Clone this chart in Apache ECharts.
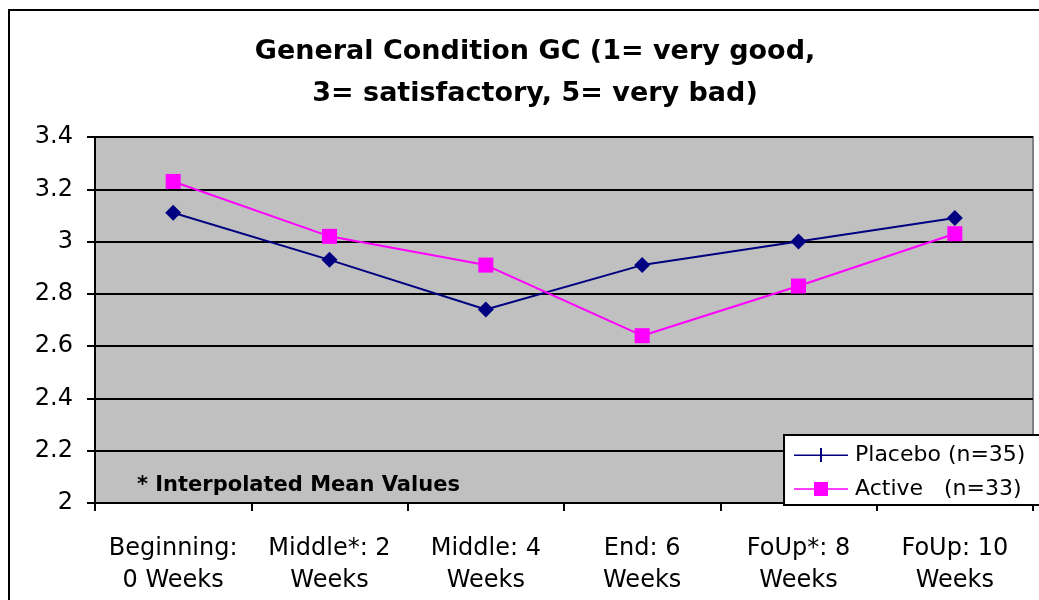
<!DOCTYPE html>
<html>
<head>
<meta charset="utf-8">
<script src="https://cdn.jsdelivr.net/npm/echarts@6/dist/echarts.min.js"></script>
<style>
  html, body { margin: 0; padding: 0; background: #fff; }
  #chart { width: 1039px; height: 600px; }
</style>
</head>
<body>
<div id="chart"></div>
<script>
// time points
var categories = ['Beginning:\n0 Weeks', 'Middle*: 2\nWeeks', 'Middle: 4\nWeeks', 'End: 6\nWeeks', 'FoUp*: 8\nWeeks', 'FoUp: 10\nWeeks'];
// mean GC values
var placebo = [3.11, 2.93, 2.74, 2.91, 3.00, 3.09];
var active = [3.23, 3.02, 2.91, 2.64, 2.83, 3.03];
var yTicks = { min: 2, max: 3.4, step: 0.2 };

var chart = echarts.init(document.getElementById('chart'));
var font = 'DejaVu Sans, Liberation Sans, sans-serif';

var option = {
  animation: false,
  textStyle: { fontFamily: font },
  title: {
    text: 'General Condition GC (1= very good,\n3= satisfactory, 5= very bad)',
    left: 530,
    top: 26,
    textAlign: 'center',
    textStyle: { fontSize: 27, fontWeight: 'bold', color: '#000', lineHeight: 42, fontFamily: font }
  },
  graphic: [
    { // outer chart border
      type: 'rect',
      shape: { x: 9, y: 10, width: 1100, height: 700 },
      style: { fill: 'none', stroke: '#000', lineWidth: 2 },
      z: 100
    },
    {
      type: 'text',
      left: 137,
      top: 475,
      style: { text: '* Interpolated Mean Values', font: 'bold 21px ' + font, fill: '#000' },
      z: 10
    }
  ],
  legend: {
    orient: 'vertical',
    left: 784,
    top: 435,
    width: 260,
    padding: [9, 20, 5, 10],
    itemGap: 12,
    itemWidth: 54,
    itemHeight: 14,
    backgroundColor: '#fff',
    borderColor: '#000',
    borderWidth: 2,
    borderRadius: 0,
    textStyle: { fontSize: 22, color: '#000', fontFamily: font, padding: [0, 0, 0, 2] },
    data: [
      { name: 'Placebo (n=35)', icon: 'path://M0,6.5h54v1.6h-54z M26,0h2v14h-2z' },
      { name: 'Active   (n=33)', icon: 'path://M0,6.2h54v1.6h-54z M20,0h14v14h-14z' }
    ]
  },
  grid: {
    left: 95, right: 6, top: 137, bottom: 97,
    show: true,
    backgroundColor: '#C0C0C0',
    borderColor: '#808080',
    borderWidth: 2
  },
  xAxis: {
    type: 'category',
    data: categories,
    boundaryGap: true,
    axisLine: { lineStyle: { color: '#000', width: 2 } },
    axisTick: { show: true, inside: false, length: 8, lineStyle: { color: '#000', width: 2 } },
    axisLabel: { fontSize: 24, color: '#000', lineHeight: 32, margin: 30, interval: 0, fontFamily: font },
    splitLine: { show: false }
  },
  yAxis: {
    type: 'value',
    min: yTicks.min,
    max: yTicks.max,
    interval: yTicks.step,
    axisLine: { show: true, lineStyle: { color: '#000', width: 2 } },
    axisTick: { show: true, inside: false, length: 8, lineStyle: { color: '#000', width: 2 } },
    axisLabel: {
      fontSize: 24, color: '#000', margin: 22, fontFamily: font,
      formatter: function (v) { return String(Math.round(v * 10) / 10); }
    },
    splitLine: { show: true, lineStyle: { color: '#000', width: 2 } }
  },
  series: [
    {
      name: 'Placebo (n=35)',
      type: 'line',
      data: placebo,
      symbol: 'diamond',
      symbolSize: 16,
      itemStyle: { color: '#000080' },
      lineStyle: { color: '#000080', width: 2 },
      z: 3
    },
    {
      name: 'Active   (n=33)',
      type: 'line',
      data: active,
      symbol: 'rect',
      symbolSize: 15,
      itemStyle: { color: '#FF00FF' },
      lineStyle: { color: '#FF00FF', width: 2 },
      z: 4
    }
  ]
};

chart.setOption(option);
</script>
</body>
</html>
